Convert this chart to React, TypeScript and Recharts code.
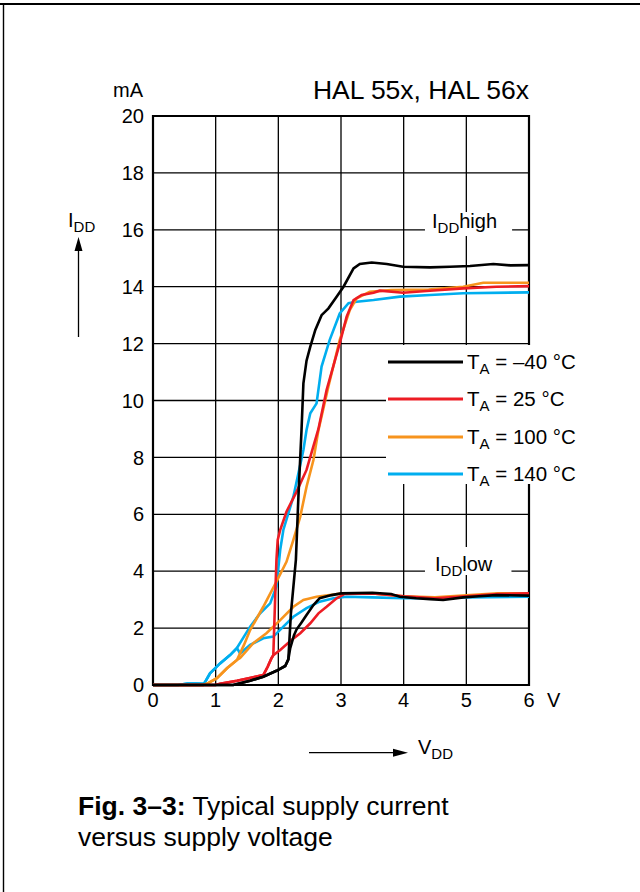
import React from 'react';
import { LineChart, Line, XAxis, YAxis, CartesianGrid, ReferenceArea, Legend } from 'recharts';

// [V, mA] points
const m40Start: number[][] = [[0, 0], [0.5, 0], [1.0, 0], [1.28, 0], [1.55, 0.15], [1.76, 0.29], [1.97, 0.5], [2.11, 0.67], [2.16, 0.9]];
const m40High: number[][] = [[2.2, 2.5], [2.28, 4.4], [2.32, 6.6], [2.37, 8.96], [2.4, 10.6], [2.45, 11.4], [2.51, 11.89], [2.59, 12.48], [2.69, 13.0], [2.8, 13.24], [2.93, 13.65], [3.04, 14.0], [3.2, 14.64], [3.3, 14.8], [3.49, 14.85], [3.73, 14.8], [3.99, 14.7], [4.42, 14.68], [4.74, 14.7], [5.06, 14.73], [5.43, 14.8], [5.7, 14.75], [6.0, 14.76]];
const m40Low: number[][] = [[2.19, 1.3], [2.25, 1.75], [2.29, 1.95], [2.37, 2.2], [2.45, 2.46], [2.56, 2.81], [2.66, 3.05], [2.85, 3.16], [3.0, 3.22], [3.5, 3.24], [3.8, 3.2], [3.94, 3.1], [4.2, 3.05], [4.42, 3.02], [4.63, 2.99], [4.95, 3.08], [5.2, 3.12], [5.48, 3.16], [6.0, 3.14]];

const t25Start: number[][] = [[0, 0], [0.5, 0], [1.0, 0], [1.07, 0.04], [1.34, 0.15], [1.6, 0.27], [1.76, 0.35], [1.83, 0.64], [1.89, 0.94], [1.92, 1.05]];
const t25High: number[][] = [[1.95, 3.1], [1.97, 4.4], [1.99, 5.1], [2.03, 5.45], [2.13, 6.09], [2.29, 6.79], [2.45, 7.56], [2.56, 8.4], [2.64, 9.0], [2.77, 10.37], [2.98, 12.01], [3.09, 12.95], [3.2, 13.53], [3.33, 13.71], [3.52, 13.79], [3.62, 13.86], [3.99, 13.79], [4.42, 13.86], [4.95, 13.94], [5.48, 14.0], [6.0, 14.02]];
const t25Low: number[][] = [[2.03, 1.23], [2.21, 1.58], [2.35, 1.82], [2.51, 2.17], [2.64, 2.52], [2.77, 2.75], [2.93, 3.05], [3.06, 3.2], [3.5, 3.22], [4.0, 3.12], [4.5, 3.05], [5.0, 3.12], [5.5, 3.2], [6.0, 3.22]];

const t100Start: number[][] = [[0, 0], [0.5, 0], [0.8, 0], [0.86, 0.04], [1.02, 0.24], [1.18, 0.59], [1.34, 0.88]];
const t100High: number[][] = [[1.45, 1.4], [1.55, 1.93], [1.76, 2.75], [1.97, 3.63], [2.13, 4.33], [2.24, 5.1], [2.35, 5.92], [2.45, 6.97], [2.56, 7.91], [2.64, 8.96], [2.8, 10.5], [2.98, 12.13], [3.14, 13.18], [3.25, 13.59], [3.46, 13.82], [3.8, 13.88], [4.4, 13.9], [4.95, 14.0], [5.27, 14.14], [6.0, 14.14]];
const t100Low: number[][] = [[1.39, 0.95], [1.6, 1.47], [1.81, 1.82], [2.03, 2.28], [2.24, 2.75], [2.4, 2.99], [2.61, 3.1], [2.82, 3.16], [3.04, 3.22], [3.5, 3.22], [4.0, 3.12], [4.5, 3.08], [5.0, 3.15], [5.5, 3.22], [6.0, 3.22]];

const t140Start: number[][] = [[0, 0], [0.4, 0], [0.55, 0.05], [0.7, 0.05], [0.8, 0.04], [0.83, 0.1], [0.91, 0.41], [1.07, 0.76], [1.23, 1.05], [1.34, 1.3]];
const t140High: number[][] = [[1.55, 2.05], [1.71, 2.52], [1.87, 2.87], [1.97, 3.46], [2.03, 4.75], [2.08, 5.45], [2.24, 6.62], [2.4, 8.26], [2.45, 8.96], [2.51, 9.55], [2.61, 9.9], [2.69, 11.19], [2.82, 12.13], [2.98, 13.06], [3.12, 13.42], [3.25, 13.47], [3.52, 13.53], [3.94, 13.65], [4.42, 13.71], [4.95, 13.77], [6.0, 13.8]];
const t140Low: number[][] = [[1.39, 1.11], [1.55, 1.41], [1.76, 1.64], [1.92, 1.7], [2.08, 2.05], [2.24, 2.4], [2.45, 2.7], [2.66, 2.93], [2.88, 3.05], [3.09, 3.1], [3.5, 3.08], [4.0, 3.05], [4.5, 3.05], [5.0, 3.08], [6.0, 3.1]];

const xTicks = [0, 1, 2, 3, 4, 5, 6];
const yTicks = [0, 2, 4, 6, 8, 10, 12, 14, 16, 18, 20];

const temps = ['–40', '25', '100', '140'];
const colors = ['#000000', '#ed1c24', '#f7941d', '#00aeef'];

const toPts = (a: number[][]) => a.map(([v, i]) => ({ v, i }));

const series = [
  { name: 't140', color: colors[3], start: t140Start, high: t140High, low: t140Low },
  { name: 't100', color: colors[2], start: t100Start, high: t100High, low: t100Low },
  { name: 't25', color: colors[1], start: t25Start, high: t25High, low: t25Low },
  { name: 'm40', color: colors[0], start: m40Start, high: m40High, low: m40Low },
];

const FONT = '"Liberation Sans", Arial, Helvetica, sans-serif';

const LegendBox = () => (
  <div style={{ fontFamily: FONT, fontSize: 20.5, color: '#000', background: '#fff', width: 200, height: 139, paddingLeft: 2, boxSizing: 'border-box' }}>
    <div style={{ position: 'relative', top: -2 }}>
      {temps.map((t, k) => (
        <div key={t} style={{ display: 'flex', alignItems: 'center', height: 37.5 }}>
          <svg width={79} height={4} style={{ display: 'block' }}>
            <line x1={0} y1={2} x2={75} y2={2} stroke={colors[k]} strokeWidth={3} />
          </svg>
          <span style={{ whiteSpace: 'nowrap' }}>
            T<span style={{ fontSize: 15, position: 'relative', top: 5 }}>A</span> = {t} °C
          </span>
        </div>
      ))}
    </div>
  </div>
);

export default function App() {
  return (
    <div style={{ position: 'absolute', left: 0, top: 0, width: 640, height: 892, background: '#fff', fontFamily: FONT, overflow: 'hidden' }}>
      <LineChart width={640} height={892} margin={{ top: 116, right: 111, bottom: 177, left: 93 }}>
        <CartesianGrid stroke="#000" strokeWidth={1.3} horizontalValues={yTicks} verticalValues={xTicks} />
        <XAxis type="number" dataKey="v" domain={[0, 6]} ticks={xTicks} tickLine={false} axisLine={false}
          tick={{ fill: '#000', fontSize: 20, fontFamily: FONT }} allowDuplicatedCategory={false} />
        <YAxis type="number" domain={[0, 20]} ticks={yTicks} tickLine={false} axisLine={false} tickMargin={3}
          tick={{ fill: '#000', fontSize: 20, fontFamily: FONT }} />
        <ReferenceArea x1={4.34} x2={5.73} y1={15.78} y2={16.63} fill="#fff" fillOpacity={1} stroke="none" />
        <ReferenceArea x1={4.34} x2={5.72} y1={3.87} y2={4.85} fill="#fff" fillOpacity={1} stroke="none" />
        {series.map((s) => [
          <Line key={s.name + 'h'} data={toPts([...s.start, ...s.high])} dataKey="i" type="linear" stroke={s.color}
            strokeWidth={2.6} dot={false} isAnimationActive={false} legendType="none" />,
          <Line key={s.name + 'l'} data={toPts([...s.start, ...s.low])} dataKey="i" type="linear" stroke={s.color}
            strokeWidth={2.6} dot={false} isAnimationActive={false} legendType="none" />,
        ])}
        <ReferenceArea x1={0} x2={6} y1={0} y2={20} fill="none" stroke="#000" strokeWidth={2.2} />
        <Legend layout="vertical" align="center" verticalAlign="middle" content={() => <LegendBox />}
          wrapperStyle={{ left: 386, top: 345, width: 200 }} />
      </LineChart>
      <svg width={640} height={892} style={{ position: 'absolute', left: 0, top: 0, pointerEvents: 'none' }} fontFamily={FONT}>
        <line x1={0} y1={4} x2={640} y2={4} stroke="#000" strokeWidth={1.8} />
        <line x1={3.5} y1={4} x2={3.5} y2={892} stroke="#000" strokeWidth={1.4} />
        <text x={529} y={99} fontSize={26.5} textAnchor="end" fill="#000">HAL 55x, HAL 56x</text>
        <text x={143} y={97} fontSize={20} textAnchor="end" fill="#000">mA</text>
        <text x={547} y={707} fontSize={20} fill="#000">V</text>
        <text x={68} y={227} fontSize={20} fill="#000">I<tspan fontSize={15} dy={5}>DD</tspan></text>
        <line x1={78.5} y1={337} x2={78.5} y2={248} stroke="#000" strokeWidth={1.3} />
        <polygon points="78.5,237 74.5,251 82.5,251" fill="#000" />
        <line x1={309} y1={752.7} x2={396} y2={752.7} stroke="#000" strokeWidth={1.3} />
        <polygon points="408,752.7 393,748.7 393,756.7" fill="#000" />
        <text x={418} y={754} fontSize={20} fill="#000">V<tspan fontSize={15} dy={5}>DD</tspan></text>
        <text x={432} y={228} fontSize={20} fill="#000">I<tspan fontSize={15} dy={5}>DD</tspan><tspan dy={-5}>high</tspan></text>
        <text x={435} y={571} fontSize={20} fill="#000">I<tspan fontSize={15} dy={5}>DD</tspan><tspan dy={-5}>low</tspan></text>
        <text x={78} y={815} fontSize={26.5} fill="#000"><tspan fontWeight="bold">Fig. 3–3:</tspan> Typical supply current</text>
        <text x={78} y={846} fontSize={26.5} fill="#000">versus supply voltage</text>
      </svg>
    </div>
  );
}
